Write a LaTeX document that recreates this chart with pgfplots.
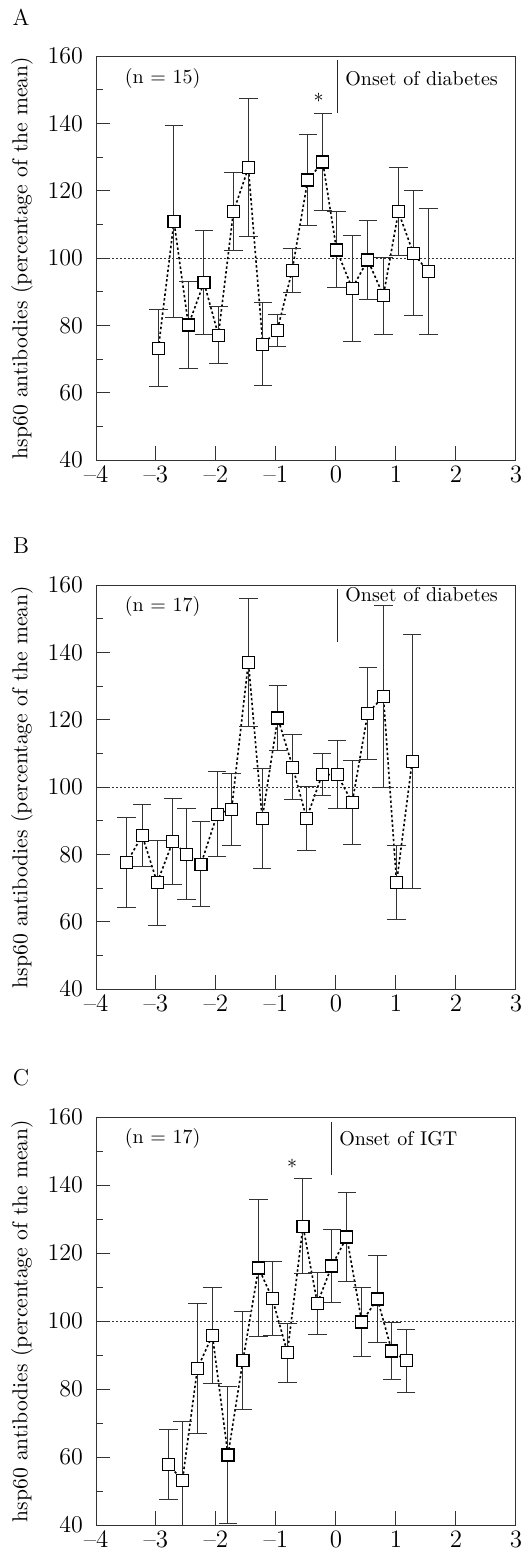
\documentclass[border=0pt]{standalone}
\usepackage{pgfplots}
\pgfplotsset{compat=1.18}
\usepackage{pgfplotstable}

% x  y  e (half-width of the error bar)
\pgfplotstableread{
x y e
-2.96 73.2 11.4
-2.70 110.8 28.5
-2.46 80.1 12.9
-2.20 92.7 15.5
-1.96 77.1 8.4
-1.71 113.7 11.6
-1.46 126.8 20.5
-1.22 74.4 12.3
-0.98 78.4 4.8
-0.73 96.4 6.5
-0.47 123.2 13.5
-0.22 128.5 14.5
0.01 102.4 11.3
0.27 91.0 15.8
0.53 99.4 11.8
0.79 88.8 11.4
1.04 113.7 13.1
1.29 101.4 18.6
1.54 95.9 18.7
}\dataA

\pgfplotstableread{
x y e
-3.49 77.5 13.3
-3.23 85.6 9.2
-2.98 71.6 12.6
-2.72 83.8 12.8
-2.49 80.0 13.5
-2.25 77.1 12.6
-1.98 91.9 12.6
-1.74 93.4 10.7
-1.46 137.1 19.0
-1.23 90.6 14.8
-0.97 120.5 9.6
-0.72 105.9 9.6
-0.49 90.7 9.6
-0.23 103.7 6.3
0.02 103.7 10.2
0.27 95.4 12.4
0.53 121.9 13.6
0.79 126.9 27.0
1.01 71.6 11.0
1.27 107.6 37.6
}\dataB

\pgfplotstableread{
x y e
-2.79 57.9 10.3
-2.56 53.0 17.4
-2.31 86.0 19.1
-2.06 95.8 14.1
-1.80 60.6 20.2
-1.55 88.5 14.4
-1.29 115.6 20.2
-1.06 106.6 11.0
-0.81 90.7 8.7
-0.55 127.9 14.0
-0.31 105.2 9.1
-0.07 116.2 10.7
0.18 124.7 13.1
0.43 99.7 10.2
0.69 106.5 12.7
0.93 91.2 8.4
1.17 88.3 9.3
}\dataC

\pgfplotsset{
  panel/.style={
    anchor=south west,
    width=210pt, height=#1, scale only axis,
    xmin=-4, xmax=3, ymin=40, ymax=160,
    xtick={-4,...,3}, xticklabels={--4,--3,--2,--1,0,1,2,3},
    ytick={40,60,...,160},
    minor y tick num=1,
    xtick pos=bottom, ytick pos=left,
    tick align=inside,
    major tick length=7.2pt, minor tick length=3.6pt,
    axis line style={line width=0.5pt, black!80},
    every tick/.style={line width=0.5pt, black!80},
    tick label style={font=\fontsize{12.5}{14}\selectfont},
    xticklabel style={inner sep=0pt, yshift=-2.6pt},
    yticklabel style={inner sep=0pt, xshift=-6.4pt},
    ylabel={hsp60 antibodies (percentage of the mean)},
    ylabel style={font=\fontsize{10.8}{12}\selectfont, at={(axis description cs:-0.176,0.5)}, anchor=center},
  },
  meanline/.style={black!80, line width=0.4pt, dash pattern=on 1pt off 1pt, forget plot},
  series/.style={black, line width=0.8pt, dash pattern=on 1.2pt off 1.2pt,
    mark=square*, mark size=3pt,
    mark options={solid, fill=white, draw=black, line width=0.6pt},
    error bars/.cd, y dir=both, y explicit,
    error bar style={solid, line width=0.5pt, black!80},
    error mark options={rotate=90, mark size=4.6pt, line width=0.5pt, black!80}},
}

\begin{document}
\begin{tikzpicture}
\path (0,0) rectangle (262.5pt,-782pt);
\tikzset{lab/.style={font=\fontsize{10}{12}\selectfont, inner sep=0pt}}

% ---------- A ----------
\node[lab, font=\fontsize{11.5}{13}\selectfont] at (10.5pt,-8.5pt) {A};
\begin{axis}[panel=202pt, at={(48pt,-230pt)}]
\addplot[meanline] coordinates {(-4,100)(3,100)};
\addplot[black!85, line width=0.5pt, forget plot] coordinates {(0.03,143)(0.03,158.8)};
\addplot[series] table[x=x, y=y, y error=e] {\dataA};
\node[lab] at (axis cs:-2.89,153.4) {(n = 15)};
\node[lab, anchor=west] at (axis cs:0.15,153.4) {Onset of diabetes};
\node[lab] at (axis cs:-0.29,147.6) {$*$};
\end{axis}

% ---------- B ----------
\node[lab, font=\fontsize{11.5}{13}\selectfont] at (10.5pt,-273pt) {B};
\begin{axis}[panel=202pt, at={(48pt,-494.5pt)}]
\addplot[meanline] coordinates {(-4,100)(3,100)};
\addplot[black!85, line width=0.5pt, forget plot] coordinates {(0.03,143)(0.03,158.8)};
\addplot[series] table[x=x, y=y, y error=e] {\dataB};
\node[lab] at (axis cs:-2.89,153.5) {(n = 17)};
\node[lab, anchor=west] at (axis cs:0.15,157.1) {Onset of diabetes};
\end{axis}

% ---------- C ----------
\node[lab, font=\fontsize{11.5}{13}\selectfont] at (10.5pt,-539pt) {C};
\begin{axis}[panel=204pt, at={(48pt,-762.5pt)}]
\addplot[meanline] coordinates {(-4,100)(3,100)};
\addplot[black!85, line width=0.5pt, forget plot] coordinates {(-0.07,142.9)(-0.07,158.5)};
\addplot[series] table[x=x, y=y, y error=e] {\dataC};
\node[lab] at (axis cs:-2.89,153.6) {(n = 17)};
\node[lab, anchor=west] at (axis cs:0.05,153.6) {Onset of IGT};
\node[lab] at (axis cs:-0.73,146.3) {$*$};
\end{axis}
\end{tikzpicture}
\end{document}
